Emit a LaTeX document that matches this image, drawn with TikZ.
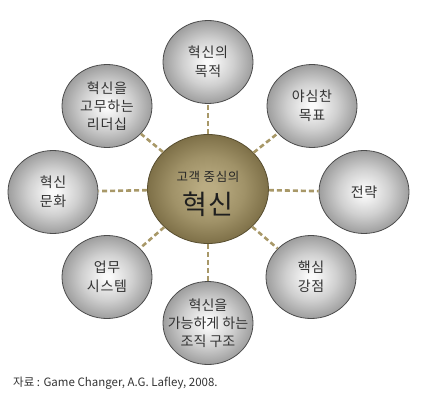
\documentclass[tikz,border=0pt]{standalone}
\usepackage{fontspec}
\setmainfont{Noto Sans CJK KR}
\newfontfamily\spc[LetterSpace=5]{Noto Sans CJK KR}
\usetikzlibrary{shapes.geometric}
\definecolor{ballout}{RGB}{158,158,158}
\definecolor{ballmid}{RGB}{208,208,208}
\definecolor{ballin}{RGB}{250,250,250}
\definecolor{oliveout}{RGB}{126,112,72}
\definecolor{olivemid}{RGB}{160,146,104}
\definecolor{olivein}{RGB}{186,172,130}
\definecolor{olivedge}{RGB}{88,78,48}
\definecolor{link}{RGB}{168,152,104}
\definecolor{txt}{RGB}{50,50,50}
\pgfdeclareradialshading{greyball}{\pgfpoint{0bp}{0bp}}{color(0bp)=(ballin); color(2bp)=(ballin); color(14bp)=(ballmid); color(25bp)=(ballout); color(50bp)=(ballout)}
\pgfdeclareradialshading{oliveball}{\pgfpoint{0bp}{0bp}}{color(0bp)=(olivein); color(3bp)=(olivein); color(15bp)=(olivemid); color(25bp)=(oliveout); color(50bp)=(oliveout)}
\tikzset{
  outer/.style={ellipse, draw=black!70, line width=0.8pt, shading=greyball, minimum width=90pt, minimum height=83pt, inner sep=0pt},
  hub/.style={ellipse, draw=olivedge, line width=0.8pt, shading=oliveball, minimum width=121pt, minimum height=109pt, inner sep=0pt},
  lbl/.style={text=txt, align=center, font=\spc\fontsize{14pt}{19pt}\selectfont, inner sep=0pt},
  conn/.style={draw=link, line width=2.6pt, dash pattern=on 5pt off 3pt},
}
\begin{document}
\begin{tikzpicture}[x=1pt,y=-1pt]
\useasboundingbox (0,0) rectangle (429,404);
\node[hub] (c) at (208,189) {};
\node[outer] (n1) at (208,62) {};
\node[outer] (n2) at (312,106) {};
\node[outer] (n3) at (364,192) {};
\node[outer] (n4) at (311,277) {};
\node[outer] (n5) at (208,323) {};
\node[outer] (n6) at (107,277) {};
\node[outer] (n7) at (53,192) {};
\node[outer] (n8) at (107,106) {};
\foreach \n in {n1,n2,n3,n4,n5,n6,n7,n8} \draw[conn] (c) -- (\n);
\node[lbl] (t1) at (n1) {혁신의\\목적};
\node[lbl] (t2) at (n2) {야심찬\\목표};
\node[lbl] (t3) at (n3) {전략};
\node[lbl] (t4) at (n4) {핵심\\강점};
\node[lbl, font=\fontsize{14pt}{18pt}\selectfont] (t5) at (n5) {혁신을\\가능하게 하는\\조직 구조};
\node[lbl] (t6) at (n6) {업무\\시스템};
\node[lbl] (t7) at (n7) {혁신\\문화};
\node[lbl, font=\spc\fontsize{14pt}{18pt}\selectfont] (t8) at (n8) {혁신을\\고무하는\\리더십};
\node[text=black!85, font=\spc\fontsize{12.5pt}{14pt}\selectfont, inner sep=0pt] (tc1) at (208,177) {고객 중심의};
\node[text=black!88, font=\spc\fontsize{27pt}{30pt}\selectfont, inner sep=0pt] (tc2) at (208,204) {혁신};
\node[anchor=west, text=black!80, font=\fontsize{11.5pt}{13pt}\selectfont, inner sep=0pt] (src) at (13,383) {자료 : Game Changer, A.G. Lafley, 2008.};
\end{tikzpicture}
\end{document}
